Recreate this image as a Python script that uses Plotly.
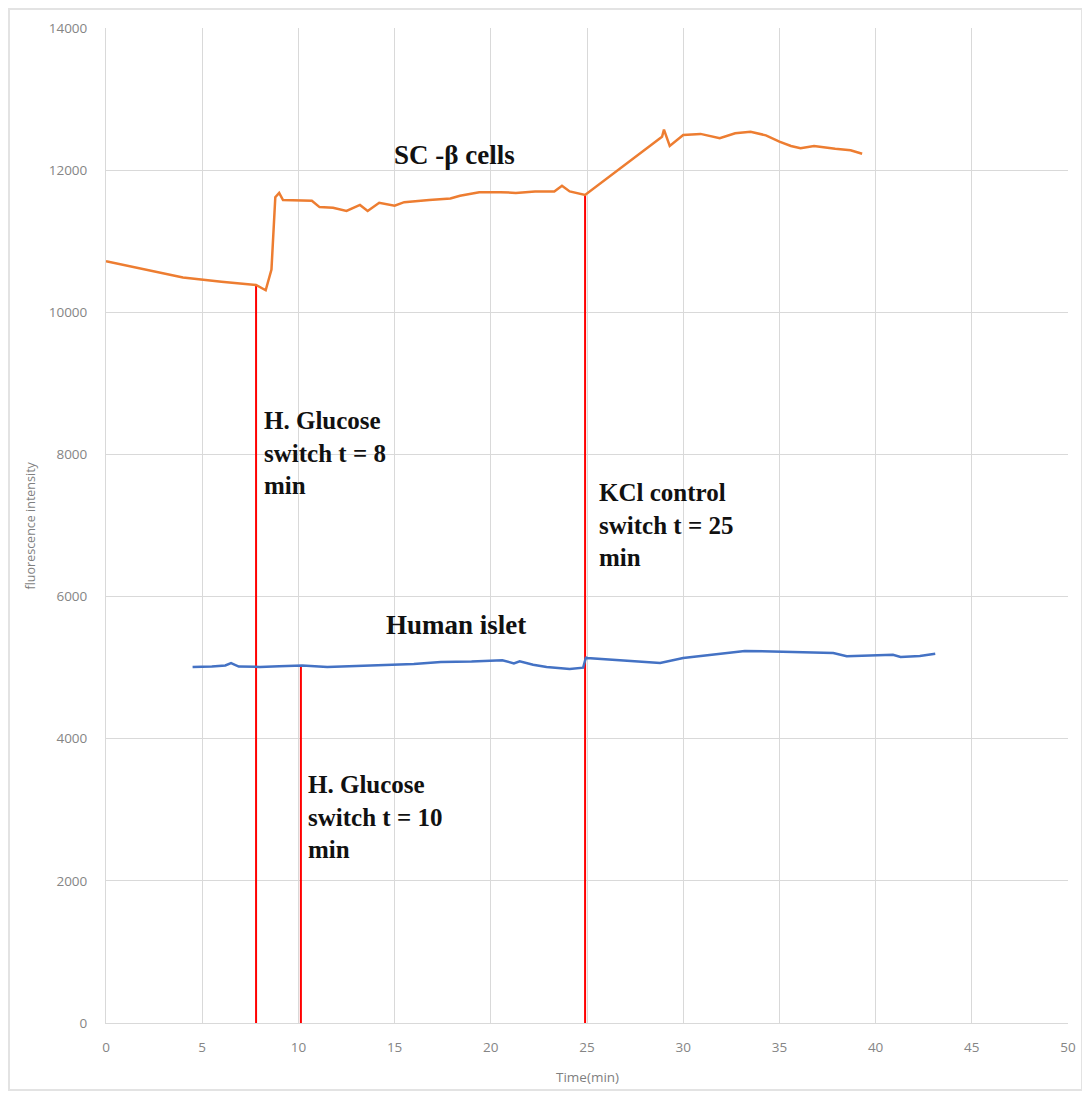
import plotly.graph_objects as go

# SC-beta cells trace
sc_time = [0.0, 2.0, 4.0, 6.0, 7.8, 8.3, 8.6, 8.8, 9.0, 9.2, 10.0, 10.7, 11.1, 11.8, 12.5, 13.2, 13.6, 14.2,
           15.0, 15.5, 16.8, 17.9, 18.4, 19.4, 20.5, 21.3, 22.3, 23.3, 23.7, 24.1, 24.9,
           28.9, 29.0, 29.3, 30.0, 30.9, 31.9, 32.4, 32.7, 33.5, 34.3, 35.0, 35.6, 36.1, 36.8, 37.9, 38.7, 39.3]
sc_value = [10720, 10610, 10490, 10430, 10385, 10310, 10600, 11620, 11680, 11580, 11570, 11570, 11480, 11470, 11425, 11510, 11425, 11540,
            11500, 11550, 11580, 11600, 11640, 11690, 11690, 11680, 11700, 11700, 11780, 11700, 11650,
            12470, 12570, 12340, 12495, 12510, 12450, 12500, 12520, 12540, 12490, 12400, 12340, 12310, 12340, 12300, 12280, 12230]

# Human islet trace
hi_time = [4.5, 5.5, 6.2, 6.5, 6.9, 8.0, 9.0, 10.2, 11.5, 13.0, 15.1, 16.0, 17.4, 19.0, 20.6, 21.2, 21.5, 22.2, 22.9, 24.1, 24.8,
           24.95, 25.0, 26.2, 27.4, 28.2, 28.8, 30.0, 31.4, 33.2, 35.7, 37.8, 38.5, 40.0, 40.9, 41.3, 42.3, 43.1]
hi_value = [5010, 5015, 5030, 5065, 5015, 5010, 5020, 5030, 5010, 5020, 5035, 5050, 5080, 5085, 5105, 5060, 5090, 5040, 5010, 4980, 5000,
            5150, 5135, 5115, 5095, 5080, 5065, 5135, 5180, 5235, 5220, 5205, 5160, 5175, 5180, 5150, 5165, 5195]

# Solution switch markers (time, top of marker line)
switch_time = [7.8, 10.13, 24.9]
switch_top = [10385, 5010, 11660]

# Labels
label_text = ["SC -β cells", "Human islet",
              "H. Glucose<br>switch t = 8<br>min",
              "KCl control<br>switch t = 25<br>min",
              "H. Glucose<br>switch t = 10<br>min"]
label_x = [18.1, 18.2, 8.1, 25.5, 10.4]
label_y = [12213, 5600, 8020, 7007, 2899]

x_ticks = [0, 5, 10, 15, 20, 25, 30, 35, 40, 45, 50]
y_ticks = [0, 2000, 4000, 6000, 8000, 10000, 12000, 14000]
y_tick_text = ["0", "2000", "4000", "6000", "8000", "10000", "12000", "14000"]

x_title = "Time(min)"
y_title = "fluorescence intensity"

fig = go.Figure()

for t, top in zip(switch_time, switch_top):
    fig.add_trace(go.Scatter(x=[t, t], y=[0, top], mode="lines",
                             line=dict(color="#ff0000", width=2), showlegend=False, hoverinfo="skip"))

fig.add_trace(go.Scatter(x=sc_time, y=sc_value, mode="lines", line=dict(color="#ED7D31", width=2.5),
                         showlegend=False, name="SC-β cells"))
fig.add_trace(go.Scatter(x=hi_time, y=hi_value, mode="lines", line=dict(color="#4472C4", width=2.5),
                         showlegend=False, name="Human islet"))

serif = "Liberation Serif, Times New Roman, serif"
for i, (txt, lx, ly) in enumerate(zip(label_text, label_x, label_y)):
    big = i < 2
    fig.add_annotation(x=lx, y=ly, text="<b>" + txt + "</b>", showarrow=False,
                       xanchor="center" if big else "left", yanchor="middle",
                       align="left",
                       font=dict(family=serif, size=27 if big else 25, color="#111111"))

sans = "Open Sans, Liberation Sans, sans-serif"
fig.add_annotation(x=0.5, y=-0.0543, xref="paper", yref="paper", text=x_title, showarrow=False,
                   xanchor="center", yanchor="middle", font=dict(family=sans, size=13.5, color="#7f7f7f"))
fig.add_annotation(x=-0.079, y=0.5, xref="paper", yref="paper", text=y_title, showarrow=False,
                   textangle=-90, xanchor="center", yanchor="middle", font=dict(family=sans, size=12.5, color="#7f7f7f"))

fig.add_shape(type="rect", xref="paper", yref="paper", x0=-0.1008, x1=1.01455, y0=-0.0673, y1=1.0191,
              line=dict(color="#e3e3e3", width=2), fillcolor="rgba(0,0,0,0)", layer="below")

axis_font = dict(family=sans, size=13.5, color="#858585")
fig.update_xaxes(range=[0, 50], tickvals=x_ticks, showgrid=True, gridcolor="#d9d9d9", gridwidth=1,
                 zeroline=False, showline=True, linecolor="#d9d9d9", linewidth=1,
                 tickfont=axis_font, ticks="", ticklabelstandoff=12, automargin=False)
fig.update_yaxes(range=[0, 14000], tickvals=y_ticks, ticktext=y_tick_text, showgrid=True, gridcolor="#d9d9d9", gridwidth=1,
                 zeroline=False, showline=True, linecolor="#d9d9d9", linewidth=1,
                 tickfont=axis_font, ticks="", ticklabelstandoff=15, automargin=False)

fig.update_layout(width=1082, height=1087, margin=dict(l=98, r=22, t=20, b=72),
                  plot_bgcolor="white", paper_bgcolor="white", showlegend=False)

fig.write_html("out.html")
